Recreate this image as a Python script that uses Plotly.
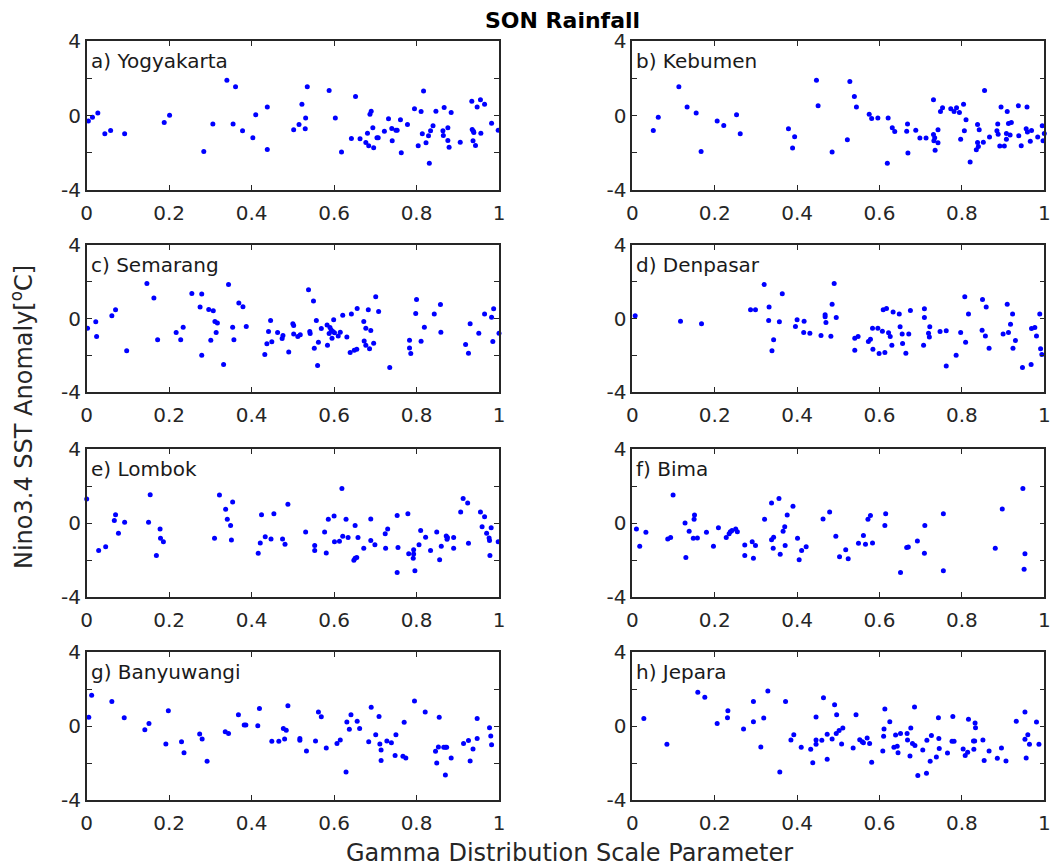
import plotly.graph_objects as go

W, H = 1053, 866

station_names = ["a) Yogyakarta", "b) Kebumen", "c) Semarang", "d) Denpasar",
                 "e) Lombok", "f) Bima", "g) Banyuwangi", "h) Jepara"]

yogyakarta_x = [0.004,0.014,0.027,0.044,0.058,0.092,0.188,0.201,0.284,0.306,
                0.340,0.355,0.361,0.378,0.403,0.410,0.438,0.438,0.502,0.515,
                0.522,0.530,0.531,0.535,0.588,0.603,0.618,0.642,0.652,0.663,
                0.677,0.681,0.684,0.687,0.690,0.694,0.696,0.704,0.707,0.722,
                0.732,0.740,0.741,0.750,0.753,0.761,0.763,0.778,0.795,0.804,
                0.811,0.814,0.817,0.823,0.829,0.831,0.834,0.840,0.847,0.864,
                0.865,0.867,0.876,0.876,0.879,0.884,0.906,0.934,0.935,0.937,
                0.938,0.939,0.943,0.947,0.955,0.956,0.965,0.982,0.998]
yogyakarta_y = [-0.30,-0.09,0.14,-0.98,-0.80,-0.98,-0.38,0.02,-1.93,-0.46,
                1.89,-0.45,1.55,-0.82,-1.20,0.04,0.45,-1.82,-0.77,-0.48,
                0.61,-0.71,-0.13,1.55,1.34,-0.13,-1.96,-1.23,1.02,-1.25,
                -1.45,-0.95,-1.63,0.07,0.23,-0.66,-1.73,-1.20,-1.20,-0.84,
                -0.18,-0.70,-1.36,-0.79,-0.79,-0.23,-2.00,-0.48,0.36,-1.63,
                0.21,-0.98,1.32,-1.46,-1.09,-2.57,-0.82,-0.55,0.23,-0.82,
                -1.07,0.43,-0.66,-1.34,-1.70,0.16,-1.43,0.77,-0.75,-1.36,
                -0.84,-0.91,-1.61,0.46,0.84,-0.95,0.61,-0.41,-0.79]

kebumen_x = [0.051,0.063,0.113,0.133,0.155,0.167,0.206,0.222,0.253,0.262,
             0.379,0.389,0.394,0.447,0.451,0.485,0.522,0.528,0.539,0.544,
             0.575,0.581,0.596,0.619,0.621,0.631,0.637,0.666,0.668,0.669,
             0.688,0.698,0.713,0.731,0.731,0.734,0.732,0.735,0.742,0.742,
             0.748,0.753,0.773,0.781,0.787,0.794,0.797,0.804,0.806,0.810,
             0.820,0.835,0.838,0.838,0.840,0.842,0.852,0.855,0.867,0.885,
             0.887,0.888,0.892,0.895,0.903,0.908,0.908,0.910,0.913,0.917,
             0.920,0.937,0.938,0.944,0.956,0.958,0.959,0.966,0.969,0.984,
             0.995,0.997,1.000]
kebumen_y = [-0.80,-0.09,1.54,0.45,0.13,-1.93,-0.30,-0.54,0.04,-0.98,
             -0.71,-1.75,-1.14,1.89,0.52,-1.96,-1.30,1.82,1.02,0.45,
             0.07,-0.16,-0.13,-2.57,-0.13,-0.66,-0.86,-0.84,-0.46,-2.02,
             -0.79,-1.21,-1.21,-1.02,0.84,-1.20,-1.36,-1.86,-0.77,-1.46,
             0.21,0.41,0.36,0.21,0.41,0.16,-1.27,0.61,-0.82,-0.23,
             -2.50,-1.84,-0.48,-1.45,-1.66,-0.77,-1.43,1.34,-1.16,-0.82,
             -0.46,-1.00,-1.64,0.46,-1.64,-0.96,-1.27,0.21,-0.43,-1.05,
             -0.38,0.52,-1.09,-1.63,-0.71,0.46,-0.89,-1.38,-0.80,-1.16,
             -0.55,-1.36,-0.96]

semarang_x = [0.002,0.022,0.024,0.061,0.070,0.097,0.146,0.163,0.172,0.217,
              0.228,0.234,0.255,0.275,0.279,0.279,0.296,0.301,0.307,0.311,
              0.314,0.317,0.332,0.344,0.354,0.357,0.369,0.379,0.387,0.432,
              0.437,0.441,0.446,0.449,0.463,0.474,0.476,0.490,0.500,0.502,
              0.502,0.512,0.518,0.538,0.541,0.542,0.550,0.552,0.557,0.560,
              0.562,0.569,0.583,0.584,0.588,0.590,0.593,0.595,0.597,0.599,
              0.601,0.610,0.615,0.621,0.631,0.639,0.642,0.649,0.655,0.656,
              0.672,0.673,0.677,0.677,0.683,0.686,0.689,0.696,0.701,0.708,
              0.735,0.783,0.783,0.786,0.798,0.800,0.811,0.819,0.843,0.858,
              0.859,0.919,0.926,0.930,0.951,0.965,0.982,0.985,0.987,1.000]
semarang_y = [-0.53,-0.18,-0.98,0.15,0.47,-1.75,1.91,1.11,-1.15,-0.76,
              -1.16,-0.47,1.36,0.62,1.33,-2.00,0.49,-1.18,0.42,-0.16,
              -0.76,-0.24,-2.51,1.85,-0.47,-1.15,0.85,0.64,-0.44,-1.96,
              -1.38,-0.71,-0.11,-1.27,-0.76,-1.09,-0.93,-1.82,-0.29,-0.38,
              -0.85,-0.98,-0.89,1.56,-0.71,-0.82,0.95,-1.62,-0.11,-2.56,
              -1.29,-0.55,-0.36,-1.45,-0.82,-0.49,-0.62,-1.07,-0.71,-0.07,
              -0.78,-0.95,-0.75,0.18,-1.00,-1.85,0.24,-1.73,-1.67,0.55,
              -0.16,-1.22,-0.53,-1.45,0.47,-1.64,-0.65,-1.35,1.18,0.38,
              -2.67,-1.18,-1.60,-1.91,0.27,1.04,-1.24,-0.47,0.24,0.76,
              -0.75,-1.42,-1.89,-0.29,-0.80,0.24,0.07,-1.25,0.53,-0.80]

denpasar_x = [0.007,0.117,0.168,0.287,0.299,0.320,0.332,0.331,0.343,0.339,
              0.357,0.364,0.396,0.400,0.417,0.416,0.431,0.458,0.468,0.468,
              0.470,0.482,0.485,0.490,0.495,0.540,0.540,0.548,0.573,0.578,
              0.583,0.584,0.596,0.599,0.607,0.609,0.613,0.617,0.622,0.626,
              0.630,0.633,0.648,0.650,0.655,0.656,0.664,0.671,0.675,0.707,
              0.709,0.709,0.719,0.721,0.722,0.747,0.762,0.762,0.786,0.797,
              0.807,0.809,0.816,0.849,0.850,0.857,0.859,0.866,0.900,0.910,
              0.913,0.918,0.923,0.924,0.930,0.947,0.968,0.969,0.977,0.981,
              0.989,0.991,0.994]
denpasar_y = [0.15,-0.15,-0.29,0.47,0.47,1.85,0.62,-0.11,-1.15,-1.75,
              -0.18,1.35,-0.44,-0.07,-0.15,-0.76,-0.80,-0.93,0.09,0.20,
              -0.22,-0.96,0.78,1.91,0.05,-1.73,-1.07,-0.98,-1.25,-1.13,
              -0.53,-1.67,-0.53,-1.91,-0.69,0.47,-1.85,0.55,-0.78,-0.98,
              -1.45,0.36,0.24,-0.45,-0.84,-1.36,-1.89,-0.84,0.44,-1.45,
              0.53,0.05,-0.80,-1.00,-0.45,-0.71,-0.67,-2.58,-2.00,-0.76,
              1.18,-1.29,0.25,-0.64,1.04,-0.95,0.62,-1.62,-0.85,0.78,
              -0.76,-0.31,0.24,-1.62,-1.20,-2.67,-2.51,-0.55,-0.49,-0.95,
              0.24,-1.64,-1.96]

lombok_x = [0.000,0.029,0.046,0.067,0.070,0.077,0.092,0.150,0.154,0.169,
            0.178,0.179,0.186,0.310,0.322,0.337,0.341,0.349,0.351,0.354,
            0.416,0.421,0.424,0.433,0.447,0.454,0.475,0.481,0.488,0.531,
            0.553,0.553,0.577,0.581,0.586,0.600,0.601,0.613,0.619,0.621,
            0.629,0.634,0.648,0.651,0.651,0.655,0.658,0.672,0.689,0.689,
            0.699,0.724,0.725,0.730,0.753,0.753,0.755,0.779,0.781,0.792,
            0.793,0.793,0.796,0.806,0.810,0.822,0.834,0.849,0.856,0.860,
            0.872,0.874,0.875,0.890,0.890,0.907,0.913,0.924,0.926,0.955,
            0.965,0.959,0.970,0.976,0.977,0.978,0.981,0.998]
lombok_y = [1.30,-1.48,-1.28,0.14,0.45,-0.56,0.04,0.04,1.53,-1.75,
            -0.32,-0.83,-1.01,-0.83,1.51,0.74,0.20,-0.14,-0.92,1.14,
            -1.64,-1.08,0.45,-0.74,-0.86,0.50,-0.86,-1.15,1.01,-0.49,
            -1.21,-1.48,-0.49,-1.62,0.20,0.38,-1.01,-0.99,1.87,-0.72,
            0.20,-0.79,-2.02,-0.14,-1.91,-1.87,-0.79,-1.37,0.22,-0.95,
            -1.17,-0.58,-1.37,-0.32,0.40,-2.68,-1.32,0.50,-1.66,-1.91,
            -1.44,-1.68,-2.58,-1.17,-0.40,-0.77,-1.48,-0.49,-1.98,-1.26,
            -0.70,-0.88,-0.79,-0.79,-1.37,0.59,1.33,1.08,-1.10,0.59,
            0.34,-0.20,-0.56,-0.81,-0.95,-1.75,-0.25,-1.01]

bima_x = [0.010,0.018,0.033,0.086,0.093,0.099,0.128,0.130,0.138,0.148,
          0.150,0.151,0.158,0.180,0.197,0.209,0.228,0.235,0.238,0.242,
          0.251,0.255,0.273,0.273,0.291,0.294,0.299,0.321,0.338,0.338,
          0.343,0.342,0.356,0.359,0.366,0.370,0.371,0.376,0.390,0.401,
          0.405,0.411,0.422,0.463,0.479,0.494,0.503,0.518,0.524,0.549,
          0.561,0.566,0.572,0.578,0.583,0.613,0.615,0.651,0.666,0.670,
          0.692,0.709,0.710,0.755,0.755,0.881,0.898,0.948,0.951,0.953]
bima_y = [-0.32,-1.26,-0.50,-0.86,-0.79,1.51,0.00,-1.87,-0.45,-0.83,
          0.20,0.43,-0.81,-0.50,-1.26,-0.25,-0.79,-0.58,-0.47,-0.40,
          -0.32,-0.47,-1.19,-1.75,-1.01,-1.91,-1.21,0.20,1.08,-0.90,
          -0.77,-1.37,1.33,-1.69,-0.45,-0.20,-1.21,0.43,0.90,-0.83,
          -1.98,-1.48,-1.28,0.22,0.59,-0.72,-1.82,-1.44,-1.93,-1.10,
          -0.68,-1.15,0.20,0.40,-1.08,-0.14,0.50,-2.67,-1.32,-1.30,
          -0.97,-1.64,-0.14,0.50,-2.58,-1.37,0.76,1.87,-2.50,-1.66]

banyuwangi_x = [0.005,0.012,0.061,0.091,0.141,0.151,0.192,0.198,0.230,0.236,
                0.274,0.280,0.292,0.336,0.344,0.368,0.382,0.386,0.415,0.419,
                0.449,0.466,0.477,0.480,0.484,0.488,0.517,0.517,0.533,0.555,
                0.562,0.569,0.581,0.607,0.615,0.629,0.631,0.637,0.641,0.656,
                0.662,0.684,0.690,0.701,0.709,0.711,0.714,0.714,0.728,0.739,
                0.748,0.750,0.767,0.770,0.774,0.795,0.821,0.846,0.849,0.853,
                0.855,0.866,0.870,0.870,0.873,0.884,0.914,0.926,0.930,0.937,
                0.947,0.947,0.977,0.980,0.982]
banyuwangi_y = [0.47,1.66,1.32,0.45,-0.20,0.14,-0.97,0.83,-0.85,-1.44,
                -0.43,-0.70,-1.91,-0.31,-0.41,0.61,0.05,0.05,0.02,0.95,
                -0.83,-0.83,-0.14,-0.70,-0.23,1.10,-0.67,-0.77,-1.35,-0.81,
                0.76,0.50,-1.19,-0.95,-0.76,-2.49,0.22,-0.18,0.61,0.25,
                -0.13,-0.85,1.01,-0.47,0.52,-0.97,-1.30,-1.86,-0.81,-0.90,
                -1.60,-0.47,-1.64,0.20,-1.73,1.35,0.76,-1.37,-2.00,-1.14,
                0.47,-1.15,-1.15,-2.65,-1.15,-1.73,-0.95,-0.79,-1.89,-1.24,
                -0.67,0.41,-0.09,-0.54,-1.01]

jepara_x = [0.028,0.084,0.159,0.176,0.206,0.231,0.232,0.270,0.294,0.294,
            0.312,0.319,0.329,0.358,0.372,0.385,0.392,0.410,0.433,0.438,
            0.446,0.446,0.446,0.460,0.464,0.473,0.473,0.485,0.491,0.495,
            0.496,0.502,0.508,0.511,0.536,0.543,0.552,0.558,0.561,0.570,
            0.576,0.581,0.608,0.610,0.611,0.613,0.625,0.635,0.639,0.643,
            0.645,0.651,0.667,0.668,0.674,0.676,0.680,0.685,0.686,0.693,
            0.705,0.714,0.715,0.723,0.726,0.738,0.743,0.744,0.745,0.765,
            0.776,0.778,0.781,0.803,0.808,0.814,0.816,0.828,0.829,0.831,
            0.832,0.833,0.851,0.854,0.866,0.886,0.896,0.907,0.932,0.953,
            0.953,0.956,0.960,0.964,0.981,0.987]
jepara_y = [0.40,-0.99,1.82,1.55,0.14,0.45,0.83,-0.16,1.32,0.23,
            -1.14,0.43,1.89,-2.49,1.33,-0.76,-0.47,-1.15,-1.26,-1.98,
            0.49,-0.76,-0.99,-0.77,1.53,-0.45,-1.80,-0.70,1.15,-0.41,
            0.61,-0.25,-0.97,-0.11,-1.19,0.61,-0.74,-0.85,-0.90,-0.65,
            -0.95,-1.96,-1.35,-0.56,-0.16,0.92,0.23,-1.15,-0.49,-1.10,
            -1.44,-0.40,-0.40,-0.76,-1.62,-0.11,-0.95,1.03,-1.06,-2.67,
            -1.30,-2.56,-0.77,-1.91,-0.52,-1.68,0.45,-0.68,-1.21,-1.46,
            -0.83,0.52,-0.83,-1.24,-1.60,-1.42,0.36,-0.81,-1.26,-0.81,
            0.16,-0.09,-0.76,-1.86,-1.35,-1.75,-1.19,-1.89,0.25,-0.72,
            0.76,-1.73,-0.47,-0.99,0.22,-0.99]

series = [(yogyakarta_x, yogyakarta_y), (kebumen_x, kebumen_y),
          (semarang_x, semarang_y), (denpasar_x, denpasar_y),
          (lombok_x, lombok_y), (bima_x, bima_y),
          (banyuwangi_x, banyuwangi_y), (jepara_x, jepara_y)]

x_tickvals = [0, 0.2, 0.4, 0.6, 0.8, 1]
x_ticktext = ["0", "0.2", "0.4", "0.6", "0.8", "1"]
y_tickvals = [-4, -2, 0, 2, 4]
y_ticktext = ["-4", "", "0", "", "4"]

# pixel layout of panels
col_px = [(86.7, 499.0), (632.3, 1044.3)]
row_px = [(41, 190), (245, 392), (449, 597), (652, 800)]

FONT = "DejaVu Sans"
AX = "#262626"

fig = go.Figure()
layout = dict(width=W, height=H, margin=dict(l=0, r=0, t=0, b=0, autoexpand=False),
              paper_bgcolor="white", plot_bgcolor="white", showlegend=False,
              annotations=[])

for i, (xs, ys) in enumerate(series):
    n = i + 1
    r, c = divmod(i, 2)
    sfx = "" if n == 1 else str(n)
    fig.add_trace(go.Scatter(x=xs, y=ys, mode="markers", xaxis="x" + sfx, yaxis="y" + sfx,
                             marker=dict(color="#0000ff", size=5), cliponaxis=False))
    x0, x1 = col_px[c]
    y0, y1 = row_px[r]
    common = dict(showline=True, mirror="allticks", linecolor=AX, linewidth=1.6,
                  ticks="inside", ticklen=5, tickwidth=1.3, tickcolor=AX,
                  showgrid=False, zeroline=False, automargin=False,
                  tickfont=dict(family=FONT, size=20, color=AX))
    layout["xaxis" + sfx] = dict(domain=[x0 / W, x1 / W], range=[0, 1], anchor="y" + sfx,
                                 tickvals=x_tickvals, ticktext=x_ticktext,
                                 ticklabelstandoff=4, **common)
    layout["yaxis" + sfx] = dict(domain=[1 - y1 / H, 1 - y0 / H], range=[-4, 4], anchor="x" + sfx,
                                 tickvals=y_tickvals, ticktext=y_ticktext, **common)
    layout["annotations"].append(dict(
        text=station_names[i], x=(x0 + 2) / W, y=1 - (y0 + 20) / H, xref="paper", yref="paper",
        xanchor="left", yanchor="middle", showarrow=False,
        font=dict(family=FONT, size=20, color="#1a1a1a")))

layout["annotations"].append(dict(
    text="<b>SON Rainfall</b>", x=562 / W, y=1 - 20 / H, xref="paper", yref="paper",
    xanchor="center", yanchor="middle", showarrow=False,
    font=dict(family=FONT, size=22, color="black")))
layout["annotations"].append(dict(
    text="Gamma Distribution Scale Parameter", x=569 / W, y=1 - 853 / H, xref="paper", yref="paper",
    xanchor="center", yanchor="middle", showarrow=False,
    font=dict(family=FONT, size=24, color=AX)))
layout["annotations"].append(dict(
    text="Nino3.4 SST Anomaly[<sup>o</sup>C]", x=22 / W, y=1 - 417 / H, xref="paper", yref="paper",
    xanchor="center", yanchor="middle", showarrow=False, textangle=-90,
    font=dict(family=FONT, size=24, color=AX)))

fig.update_layout(**layout)
fig.write_html("out.html", config={"displayModeBar": False},
               post_script="document.body.style.margin='0px';document.body.style.padding='0px';"
                           "document.body.style.overflow='hidden';")
